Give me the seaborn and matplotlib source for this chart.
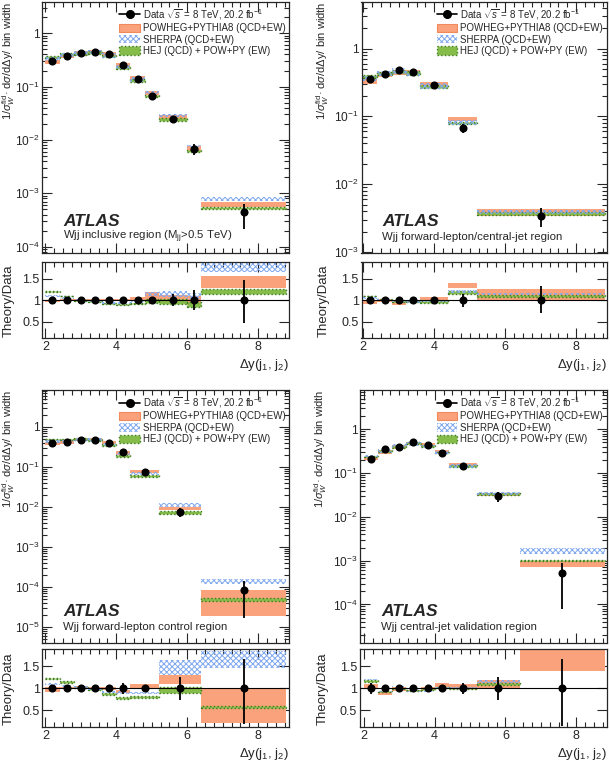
import numpy as np
import matplotlib
matplotlib.use("Agg")
import matplotlib.pyplot as plt
import seaborn as sns
from matplotlib.lines import Line2D
from matplotlib.patches import Patch
from matplotlib.ticker import FuncFormatter, MultipleLocator, LogLocator, NullFormatter

# ---------------- data ----------------
# Panel 1: inclusive region
edges1 = [2.0, 2.4, 2.8, 3.2, 3.6, 4.0, 4.4, 4.8, 5.2, 6.0, 6.4, 8.8]
data1 = [0.30, 0.37, 0.42, 0.45, 0.41, 0.25, 0.14, 0.068, 0.025, 0.0069, 0.00044]
errup1 = [0.03, 0.03, 0.02, 0.02, 0.02, 0.03, 0.04, 0.06, 0.14, 0.23, 0.46]
errdn1 = [0.03, 0.03, 0.02, 0.02, 0.02, 0.03, 0.04, 0.06, 0.14, 0.23, 0.52]
pow1 = [0.98, 1.00, 1.00, 1.00, 1.00, 1.01, 1.03, 1.10, 1.06, 1.00, 1.42]
powhw1 = [0.02, 0.02, 0.02, 0.02, 0.02, 0.03, 0.05, 0.09, 0.07, 0.10, 0.14]
sh1 = [1.10, 1.05, 1.00, 0.98, 0.94, 0.93, 0.97, 1.14, 1.15, 1.10, 1.78]
shhw1 = [0.02, 0.02, 0.02, 0.02, 0.02, 0.02, 0.03, 0.05, 0.07, 0.08, 0.12]
hej1 = [1.20, 1.10, 1.00, 0.97, 0.92, 0.91, 0.92, 0.98, 0.98, 0.90, 1.20]
hejhw1 = [0.01, 0.01, 0.01, 0.01, 0.01, 0.01, 0.01, 0.05, 0.06, 0.05, 0.06]

# Panel 2: forward-lepton/central-jet region
edges2 = [2.0, 2.4, 2.8, 3.2, 3.6, 4.4, 5.2, 8.8]
data2 = [0.35, 0.42, 0.48, 0.45, 0.29, 0.068, 0.0034]
errup2 = [0.07, 0.04, 0.03, 0.03, 0.03, 0.15, 0.32]
errdn2 = [0.07, 0.04, 0.03, 0.03, 0.03, 0.15, 0.30]
pow2 = [0.95, 1.00, 0.93, 0.98, 1.03, 1.34, 1.13]
powhw2 = [0.03, 0.03, 0.03, 0.02, 0.04, 0.05, 0.13]
sh2 = [1.05, 1.02, 0.97, 0.96, 0.97, 1.20, 1.15]
shhw2 = [0.02, 0.02, 0.02, 0.02, 0.02, 0.03, 0.03]
hej2 = [1.10, 1.03, 0.97, 0.97, 0.96, 1.18, 1.10]
hejhw2 = [0.01, 0.01, 0.01, 0.01, 0.02, 0.04, 0.02]

# Panel 3: forward-lepton control region
edges3 = [2.0, 2.4, 2.8, 3.2, 3.6, 4.0, 4.4, 5.2, 6.4, 8.8]
data3 = [0.40, 0.42, 0.48, 0.48, 0.40, 0.24, 0.075, 0.0075, 8.3e-5]
errup3 = [0.03, 0.03, 0.03, 0.03, 0.04, 0.13, 0.06, 0.26, 0.66]
errdn3 = [0.03, 0.03, 0.03, 0.03, 0.04, 0.13, 0.06, 0.26, 0.80]
pow3 = [0.97, 1.00, 1.03, 1.00, 1.00, 0.93, 1.05, 1.20, 0.61]
powhw3 = [0.05, 0.02, 0.03, 0.02, 0.03, 0.04, 0.05, 0.10, 0.39]
sh3 = [1.10, 1.05, 1.03, 0.98, 0.92, 0.90, 0.90, 1.47, 1.65]
shhw3 = [0.02, 0.02, 0.02, 0.02, 0.03, 0.03, 0.02, 0.16, 0.20]
hej3 = [1.22, 1.15, 1.02, 0.97, 0.88, 0.78, 0.80, 0.97, 0.58]
hejhw3 = [0.02, 0.02, 0.01, 0.01, 0.02, 0.02, 0.02, 0.07, 0.02]

# Panel 4: central-jet validation region
edges4 = [2.0, 2.4, 2.8, 3.2, 3.6, 4.0, 4.4, 5.2, 6.4, 8.8]
data4 = [0.206, 0.35, 0.40, 0.50, 0.44, 0.29, 0.147, 0.030, 5.2e-4]
errup4 = [0.13, 0.05, 0.04, 0.03, 0.03, 0.05, 0.12, 0.26, 0.67]
errdn4 = [0.13, 0.05, 0.04, 0.03, 0.03, 0.05, 0.12, 0.26, 0.85]
pow4 = [1.05, 0.88, 0.99, 0.95, 1.00, 1.08, 1.05, 1.09, 1.65]
powhw4 = [0.04, 0.04, 0.04, 0.02, 0.04, 0.04, 0.04, 0.09, 0.27]
sh4 = [1.20, 0.93, 1.04, 0.93, 0.93, 1.02, 1.00, 1.15, 3.20]
shhw4 = [0.02, 0.02, 0.02, 0.02, 0.02, 0.02, 0.02, 0.03, 0.50]
hej4 = [1.17, 0.93, 1.00, 0.95, 0.97, 1.02, 1.00, 1.10, 1.95]
hejhw4 = [0.02, 0.02, 0.01, 0.01, 0.01, 0.01, 0.01, 0.02, 0.03]

regions = ["Wjj inclusive region (M$_{\\mathrm{jj}}$>0.5 TeV)",
           "Wjj forward-lepton/central-jet region",
           "Wjj forward-lepton control region",
           "Wjj central-jet validation region"]
legend_labels = ["Data $\\sqrt{s}$ = 8 TeV, 20.2 fb$^{-1}$",
                 "POWHEG+PYTHIA8 (QCD+EW)",
                 "SHERPA (QCD+EW)",
                 "HEJ (QCD) + POW+PY (EW)"]

# ---------------- style ----------------
sns.set_theme(style="ticks")
plt.rcParams['font.family'] = ['Liberation Sans', 'DejaVu Sans']
plt.rcParams['mathtext.fontset'] = 'custom'
plt.rcParams['mathtext.rm'] = 'Liberation Sans'
plt.rcParams['mathtext.it'] = 'Liberation Sans:italic'
plt.rcParams['mathtext.bf'] = 'Liberation Sans:bold'
plt.rcParams['hatch.linewidth'] = 0.7
plt.rcParams['axes.linewidth'] = 0.9

ORANGE = '#F9A27C'
ORANGE_E = '#F08A5D'
BLUE = '#7FA8EE'
GREEN = '#86BC4A'
DGREEN = '#3E7E22'

sty_pow = dict(facecolor=ORANGE, edgecolor=ORANGE, linewidth=0.0)
sty_sh = dict(facecolor='none', edgecolor=BLUE, hatch='xxxxxx', linewidth=0.0)
sty_hej = dict(facecolor=GREEN, edgecolor=DGREEN, linestyle=':', linewidth=1.0)

W, H = 610, 765
fig = plt.figure(figsize=(W / 100, H / 100), dpi=100)


def rect(l, r, t, b):
    return [l / W, 1 - b / H, (r - l) / W, (b - t) / H]


layout = [
    dict(main=rect(42.5, 289.3, 1.7, 253.3), ratio=rect(42.5, 289.3, 262.3, 338.3),
         ylim=(7.5e-5, 3.9), xlim=(1.92, 8.88), ylab_x=-0.104, rlab_x=-0.112),
    dict(main=rect(361.5, 606.7, 1.7, 253.3), ratio=rect(361.5, 606.7, 262.3, 338.3),
         ylim=(9.6e-4, 4.9), xlim=(1.95, 8.86), ylab_x=-0.125, rlab_x=-0.128),
    dict(main=rect(42.5, 289.3, 390.0, 643.3), ratio=rect(42.5, 289.3, 649.3, 727.3),
         ylim=(3.9e-6, 8.3), xlim=(1.92, 8.88), ylab_x=-0.104, rlab_x=-0.112),
    dict(main=rect(360.0, 606.7, 390.0, 643.3), ratio=rect(360.0, 606.7, 649.3, 727.3),
         ylim=(1.3e-5, 7.9), xlim=(1.89, 8.86), ylab_x=-0.125, rlab_x=-0.128),
]

panels = [
    (edges1, data1, errup1, errdn1, pow1, powhw1, sh1, shhw1, hej1, hejhw1),
    (edges2, data2, errup2, errdn2, pow2, powhw2, sh2, shhw2, hej2, hejhw2),
    (edges3, data3, errup3, errdn3, pow3, powhw3, sh3, shhw3, hej3, hejhw3),
    (edges4, data4, errup4, errdn4, pow4, powhw4, sh4, shhw4, hej4, hejhw4),
]


def logfmt(v, pos):
    if v <= 0:
        return ''
    e = int(round(np.log10(v)))
    if abs(np.log10(v) - e) > 1e-6:
        return ''
    if e == 0:
        return '1'
    if e == 1:
        return '10'
    return '$10^{%d}$' % e


FS = 8.5

for i, (pan, lay) in enumerate(zip(panels, layout)):
    edges, data, eup, edn, pw, pwh, sh, shh, hj, hjh = [np.asarray(a, dtype=float) for a in pan]
    lo, hi = edges[:-1], edges[1:]
    c = 0.5 * (lo + hi)
    w = hi - lo

    ax = fig.add_axes(lay['main'])
    rx = fig.add_axes(lay['ratio'])
    ax.set_yscale('log')

    for r, hw, sty, mn in [(pw, pwh, sty_pow, 0.09), (hj, hjh, sty_hej, 0.05), (sh, shh, sty_sh, 0.09)]:
        hwm = np.maximum(hw, mn)
        bot = data * (r - hwm)
        top = data * (r + hwm)
        ax.bar(c, top - bot, bottom=bot, width=w, align='center', zorder=2, **sty)
        rx.bar(c, 2 * hw, bottom=r - hw, width=w, align='center', zorder=2, **sty)

    # data points
    ax.errorbar(c, data, yerr=[data * edn, data * eup], fmt='none', ecolor='black',
                elinewidth=1.3, capsize=0, zorder=5)
    sns.scatterplot(x=c, y=data, ax=ax, color='black', s=34, linewidth=0, zorder=6, legend=False)
    ones = np.ones_like(c)
    rx.axhline(1.0, color='black', lw=0.8, zorder=3)
    rx.errorbar(c, ones, yerr=[edn, eup], fmt='none', ecolor='black', elinewidth=1.3,
                capsize=0, zorder=5)
    sns.scatterplot(x=c, y=ones, ax=rx, color='black', s=34, linewidth=0, zorder=6, legend=False)

    # axes setup
    ax.set_xlim(*lay['xlim'])
    rx.set_xlim(*lay['xlim'])
    ax.set_ylim(*lay['ylim'])
    rx.set_ylim(0.12, 1.88)

    ax.yaxis.set_major_locator(LogLocator(base=10, numticks=20))
    ax.yaxis.set_minor_locator(LogLocator(base=10, subs=np.arange(2, 10), numticks=20))
    ax.yaxis.set_major_formatter(FuncFormatter(logfmt))
    ax.yaxis.set_minor_formatter(NullFormatter())
    for a in (ax, rx):
        a.xaxis.set_major_locator(MultipleLocator(2))
        a.xaxis.set_minor_locator(MultipleLocator(0.25))
        a.tick_params(which='both', direction='in', top=True, right=True, labelsize=FS + 0.5,
                      width=0.8, pad=2)
        a.tick_params(which='major', length=7)
        a.tick_params(which='minor', length=3.5)
    ax.tick_params(labelbottom=False)
    ax.tick_params(axis='y', labelsize=8.6)
    rx.yaxis.set_major_locator(MultipleLocator(0.5))
    rx.yaxis.set_minor_locator(MultipleLocator(0.1))
    rx.yaxis.set_major_formatter(FuncFormatter(lambda v, p: ('%g' % v)))
    rx.tick_params(axis='y', which='minor', length=0)

    ax.set_ylabel("1/$\\sigma_{W}^{\\mathrm{fid}}$· d$\\sigma$/d$\\Delta$y/ bin width",
                  fontsize=8.0, loc='top')
    ax.yaxis.set_label_coords(lay['ylab_x'], 1.0)
    rx.set_ylabel("Theory/Data", fontsize=9.5)
    rx.yaxis.set_label_coords(lay['rlab_x'], 0.5)
    rx.set_xlabel("$\\Delta$y(j$_{1}$, j$_{2}$)", fontsize=9.5, loc='right', labelpad=3)

    ax.text(0.085, 0.125, "ATLAS", transform=ax.transAxes, fontsize=12.5, fontweight='bold',
            fontstyle='italic', va='center', ha='left')
    ax.text(0.085, 0.065, regions[i], transform=ax.transAxes, fontsize=8.2, va='center', ha='left')

    handles = [
        Line2D([], [], color='black', marker='o', markersize=5.5, lw=1.2),
        Patch(facecolor=ORANGE, edgecolor=ORANGE_E, lw=0.8),
        Patch(facecolor='white', edgecolor=BLUE, hatch='xxxxxx', lw=0),
        Patch(facecolor=GREEN, edgecolor=DGREEN, ls=':', lw=1.0),
    ]
    ax.legend(handles, legend_labels, loc='upper right', bbox_to_anchor=(1.0, 0.995),
              frameon=False, fontsize=7.0, handlelength=2.1, handleheight=0.95,
              handletextpad=0.3, labelspacing=0.15, borderaxespad=0.2, borderpad=0.2)

fig.savefig("out.png", dpi=100)
